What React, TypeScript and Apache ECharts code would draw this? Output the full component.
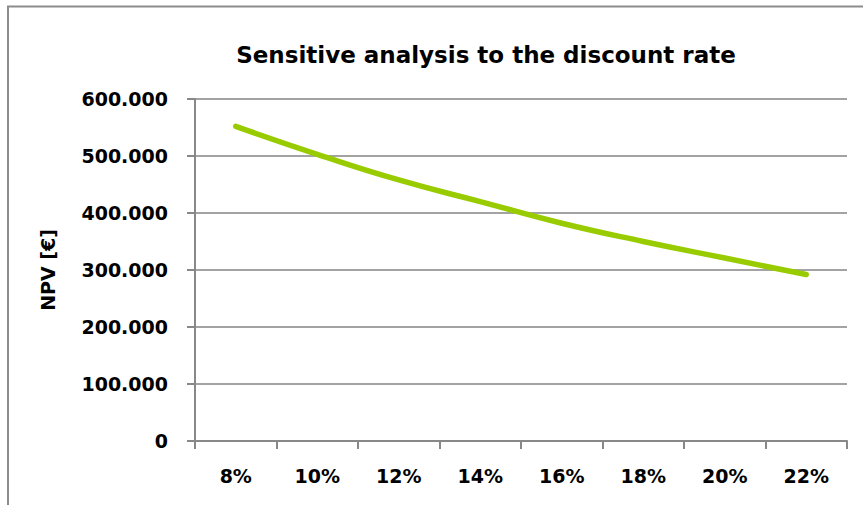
import React, { useEffect, useRef } from "react";
import * as echarts from "echarts";

const categories = ["8%", "10%", "12%", "14%", "16%", "18%", "20%", "22%"];
const npvValues = [552000, 503000, 458000, 420000, 382000, 350000, 321000, 292000];
const yTicks = { min: 0, max: 600000, interval: 100000 };
const titleText = "Sensitive analysis to the discount rate";
const yAxisName = "NPV [€]";

const FONT = "DejaVu Sans";

function fmt(v: number): string {
  return String(Math.round(v)).replace(/\B(?=(\d{3})+(?!\d))/g, ".");
}

export default function App() {
  const ref = useRef<HTMLDivElement>(null);
  useEffect(() => {
    if (!ref.current) return;
    const chart = echarts.init(ref.current, undefined, { renderer: "svg" });
    chart.setOption({
      animation: false,
      backgroundColor: "#ffffff",
      grid: { left: 195, right: 16, top: 99, bottom: 64, containLabel: false },
      graphic: [
        {
          type: "polyline",
          shape: { points: [[8, 505], [8, 6.5], [863, 6.5]] },
          style: { stroke: "#8c8c8c", lineWidth: 2, fill: "none" },
          silent: true,
        },
        {
          type: "text",
          x: 486,
          y: 55,
          style: {
            text: titleText,
            fill: "#000",
            font: `bold 23px "${FONT}"`,
            align: "center",
            verticalAlign: "middle",
          },
        },
      ],
      xAxis: {
        type: "category",
        data: categories,
        boundaryGap: true,
        axisLine: { show: true, lineStyle: { color: "#888", width: 2 } },
        axisTick: { show: true, length: 8, lineStyle: { color: "#888", width: 2 } },
        axisLabel: {
          color: "#000",
          fontFamily: FONT,
          fontWeight: "bold",
          fontSize: 19,
          margin: 25,
        },
        splitLine: { show: false },
      },
      yAxis: {
        type: "value",
        min: yTicks.min,
        max: yTicks.max,
        interval: yTicks.interval,
        name: yAxisName,
        nameLocation: "middle",
        nameGap: 138,
        nameRotate: 90,
        nameTextStyle: {
          color: "#000",
          fontFamily: FONT,
          fontWeight: "bold",
          fontSize: 19,
        },
        axisLine: { show: true, lineStyle: { color: "#888", width: 2 } },
        axisTick: { show: true, length: 8, lineStyle: { color: "#888", width: 2 } },
        axisLabel: {
          color: "#000",
          fontFamily: FONT,
          fontWeight: "bold",
          fontSize: 19,
          margin: 27,
          formatter: (v: number) => fmt(v),
        },
        splitLine: { show: true, lineStyle: { color: "#858585", width: 1.6 } },
      },
      series: [
        {
          type: "line",
          data: npvValues,
          smooth: true,
          showSymbol: false,
          symbol: "none",
          lineStyle: { color: "#99CC00", width: 5.5, cap: "round" },
          itemStyle: { color: "#99CC00" },
        },
      ],
    });
    return () => chart.dispose();
  }, []);
  return (
    <div
      ref={ref}
      style={{ position: "fixed", left: 0, top: 0, width: 863, height: 505 }}
    />
  );
}
